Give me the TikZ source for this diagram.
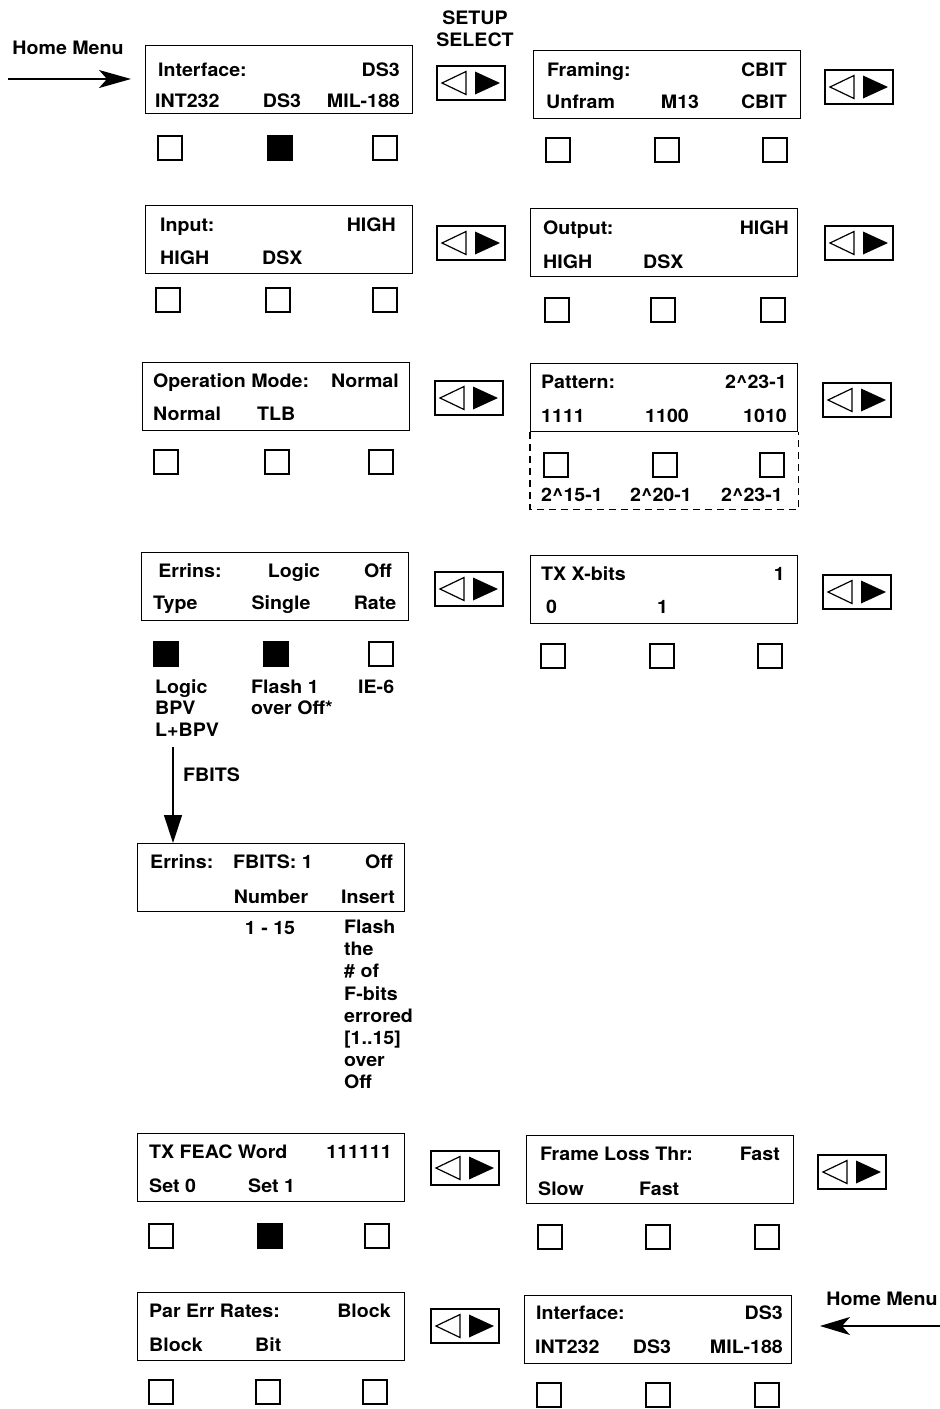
\documentclass[tikz,border=0pt]{standalone}
\usepackage{fontspec}
\setmainfont{TeX Gyre Heros}[FakeStretch=1.06]
\usetikzlibrary{arrows.meta}

\tikzset{
  lcd/.style={draw, line width=1.3pt, minimum width=267pt, minimum height=68pt, inner sep=0pt},
  key/.style={draw, line width=1.2pt, minimum size=24pt, inner sep=0pt},
  keyon/.style={key, fill=black},
  selbtn/.style={draw, line width=1.3pt, minimum width=68pt, minimum height=34pt, inner sep=0pt,
    path picture={
      \draw[line width=1.2pt, shift={(path picture bounding box.center)}] (-29,0) -- (-5,-11.5) -- (-5,11.5) -- cycle;
      \fill[shift={(path picture bounding box.center)}] (4,-11.5) -- (4,11.5) -- (29,0) -- cycle;
    }},
  lbl/.style={inner sep=0pt, font=\fontsize{18.5}{22}\selectfont\bfseries},
}

\begin{document}
\begin{tikzpicture}[x=1pt, y=-1pt]
    \useasboundingbox (0,0) rectangle (940,1409);

    % home menu in
    \node[lbl] (home1) at (68,48) {Home Menu};
    \coordinate (home1in) at (8,79);
    \coordinate (home1tip) at (131,79);
    \node[lbl] (setup) at (475,18) {SETUP};
    \node[lbl] (select) at (475,40) {SELECT};

    % displays
    \node[lcd, anchor=north west] (iface)  at (145,45)   {};
    \node[lcd, anchor=north west] (fram)   at (533,50)   {};
    \node[lcd, anchor=north west] (input)  at (145,205)  {};
    \node[lcd, anchor=north west] (output) at (530,208)  {};
    \node[lcd, anchor=north west] (opmode) at (142,362)  {};
    \node[lcd, anchor=north west] (patt)   at (530,363)  {};
    \node[lcd, anchor=north west] (errins) at (141,552)  {};
    \node[lcd, anchor=north west] (txx)    at (530,555)  {};
    \node[lcd, anchor=north west] (fbits)  at (137,843)  {};
    \node[lcd, anchor=north west] (feac)   at (137,1133) {};
    \node[lcd, anchor=north west] (floss)  at (526,1135) {};
    \node[lcd, anchor=north west] (parerr) at (137,1292) {};
    \node[lcd, anchor=north west] (iface2) at (524,1295) {};

    % display texts
    \node[lbl, anchor=base west] (iface-a) at (158,76)  {Interface:};
    \node[lbl, anchor=base east] (iface-b) at (400,76)  {DS3};
    \node[lbl, anchor=base west] (iface-c) at (155,107) {INT232};
    \node[lbl, anchor=base]      (iface-d) at (282,107) {DS3};
    \node[lbl, anchor=base east] (iface-e) at (400,107) {MIL-188};

    \node[lbl, anchor=base west] (fram-a) at (547,76)  {Framing:};
    \node[lbl, anchor=base east] (fram-b) at (787,76)  {CBIT};
    \node[lbl, anchor=base west] (fram-c) at (546,108) {Unfram};
    \node[lbl, anchor=base]      (fram-d) at (680,108) {M13};
    \node[lbl, anchor=base east] (fram-e) at (787,108) {CBIT};

    \node[lbl, anchor=base west] (input-a) at (160,231) {Input:};
    \node[lbl, anchor=base east] (input-b) at (396,231) {HIGH};
    \node[lbl, anchor=base west] (input-c) at (160,264) {HIGH};
    \node[lbl, anchor=base west] (input-d) at (262,264) {DSX};

    \node[lbl, anchor=base west] (output-a) at (543,234) {Output:};
    \node[lbl, anchor=base east] (output-b) at (789,234) {HIGH};
    \node[lbl, anchor=base west] (output-c) at (543,268) {HIGH};
    \node[lbl, anchor=base west] (output-d) at (643,268) {DSX};

    \node[lbl, anchor=base west] (opmode-a) at (153,387) {Operation Mode:};
    \node[lbl, anchor=base east] (opmode-b) at (399,387) {Normal};
    \node[lbl, anchor=base west] (opmode-c) at (153,420) {Normal};
    \node[lbl, anchor=base west] (opmode-d) at (257,420) {TLB};

    \node[lbl, anchor=base west] (patt-a) at (541,388) {Pattern:};
    \node[lbl, anchor=base east] (patt-b) at (787,388) {2\^{}23-1};
    \node[lbl, anchor=base west] (patt-c) at (541,422) {1111};
    \node[lbl, anchor=base]      (patt-d) at (667,422) {1100};
    \node[lbl, anchor=base east] (patt-e) at (787,422) {1010};

    \node[lbl, anchor=base] (errins-a) at (190,577) {Errins:};
    \node[lbl, anchor=base] (errins-b) at (294,577) {Logic};
    \node[lbl, anchor=base] (errins-c) at (378,577) {Off};
    \node[lbl, anchor=base west] (errins-d) at (153,609) {Type};
    \node[lbl, anchor=base] (errins-e) at (281,609) {Single};
    \node[lbl, anchor=base] (errins-f) at (375,609) {Rate};

    \node[lbl, anchor=base west] (txx-a) at (541,580) {TX X-bits};
    \node[lbl, anchor=base east] (txx-b) at (785,580) {1};
    \node[lbl, anchor=base west] (txx-c) at (546,613) {0};
    \node[lbl, anchor=base west] (txx-d) at (657,613) {1};

    \node[lbl, anchor=base west] (fbits-a) at (150,868) {Errins:};
    \node[lbl, anchor=base west] (fbits-b) at (233,868) {FBITS: 1};
    \node[lbl, anchor=base east] (fbits-c) at (393,868) {Off};
    \node[lbl, anchor=base]      (fbits-d) at (271,903) {Number};
    \node[lbl, anchor=base]      (fbits-e) at (368,903) {Insert};

    \node[lbl, anchor=base west] (feac-a) at (149,1158) {TX FEAC Word};
    \node[lbl, anchor=base east] (feac-b) at (392,1158) {111111};
    \node[lbl, anchor=base west] (feac-c) at (149,1192) {Set 0};
    \node[lbl, anchor=base west] (feac-d) at (248,1192) {Set 1};

    \node[lbl, anchor=base west] (floss-a) at (540,1160) {Frame Loss Thr:};
    \node[lbl, anchor=base east] (floss-b) at (780,1160) {Fast};
    \node[lbl, anchor=base west] (floss-c) at (538,1195) {Slow};
    \node[lbl, anchor=base west] (floss-d) at (639,1195) {Fast};

    \node[lbl, anchor=base west] (parerr-a) at (149,1317) {Par Err Rates:};
    \node[lbl, anchor=base east] (parerr-b) at (391,1317) {Block};
    \node[lbl, anchor=base west] (parerr-c) at (149,1351) {Block};
    \node[lbl, anchor=base west] (parerr-d) at (255,1351) {Bit};

    \node[lbl, anchor=base west] (iface2-a) at (536,1319) {Interface:};
    \node[lbl, anchor=base east] (iface2-b) at (783,1319) {DS3};
    \node[lbl, anchor=base west] (iface2-c) at (535,1353) {INT232};
    \node[lbl, anchor=base]      (iface2-d) at (652,1353) {DS3};
    \node[lbl, anchor=base east] (iface2-e) at (783,1353) {MIL-188};

    % keys under the displays
    \node[key]   (iface-k1) at (170,148) {};
    \node[keyon] (iface-k2) at (280,148) {};
    \node[key]   (iface-k3) at (385,148) {};
    \node[key]   (fram-k1) at (558,150) {};
    \node[key]   (fram-k2) at (667,150) {};
    \node[key]   (fram-k3) at (775,150) {};
    \node[key]   (input-k1) at (168,300) {};
    \node[key]   (input-k2) at (278,300) {};
    \node[key]   (input-k3) at (385,300) {};
    \node[key]   (output-k1) at (557,310) {};
    \node[key]   (output-k2) at (663,310) {};
    \node[key]   (output-k3) at (773,310) {};
    \node[key]   (opmode-k1) at (166,462) {};
    \node[key]   (opmode-k2) at (277,462) {};
    \node[key]   (opmode-k3) at (381,462) {};
    \node[key]   (patt-k1) at (556,465) {};
    \node[key]   (patt-k2) at (665,465) {};
    \node[key]   (patt-k3) at (772,465) {};
    \node[keyon] (errins-k1) at (166,654) {};
    \node[keyon] (errins-k2) at (276,654) {};
    \node[key]   (errins-k3) at (381,654) {};
    \node[key]   (txx-k1) at (553,656) {};
    \node[key]   (txx-k2) at (662,656) {};
    \node[key]   (txx-k3) at (770,656) {};
    \node[key]   (feac-k1) at (161,1236) {};
    \node[keyon] (feac-k2) at (270,1236) {};
    \node[key]   (feac-k3) at (377,1236) {};
    \node[key]   (floss-k1) at (550,1237) {};
    \node[key]   (floss-k2) at (658,1237) {};
    \node[key]   (floss-k3) at (767,1237) {};
    \node[key]   (parerr-k1) at (161,1392) {};
    \node[key]   (parerr-k2) at (268,1392) {};
    \node[key]   (parerr-k3) at (375,1392) {};
    \node[key]   (iface2-k1) at (549,1395) {};
    \node[key]   (iface2-k2) at (658,1395) {};
    \node[key]   (iface2-k3) at (767,1395) {};

    % pattern choices
    \draw[dash pattern=on 7pt off 5pt, line width=1.2pt] (patt.south west) -- ++(0,77) -| (patt.south east);
    \node[lbl, anchor=base] (patt-l1) at (572,501) {2\^{}15-1};
    \node[lbl, anchor=base] (patt-l2) at (661,501) {2\^{}20-1};
    \node[lbl, anchor=base] (patt-l3) at (752,501) {2\^{}23-1};

    % errins choices
    \node[lbl, anchor=base west] (errins-l1) at (155,693) {Logic};
    \node[lbl, anchor=base west] (errins-l2) at (155,714) {BPV};
    \node[lbl, anchor=base west] (errins-l3) at (155,736) {L+BPV};
    \node[lbl, anchor=base west] (errins-l4) at (251,693) {Flash 1};
    \node[lbl, anchor=base west] (errins-l5) at (251,714) {over Off*};
    \node[lbl, anchor=base west] (errins-l6) at (358,693) {IE-6};
    \coordinate (fbitsout) at (173,747);
    \node[lbl, anchor=base west] (fbitslbl) at (183,781) {FBITS};

    % fbits choices
    \node[lbl, anchor=base] (fbits-l1) at (270,934) {1 - 15};
    \node[lbl, anchor=north west, align=left, font=\fontsize{18.5}{22.1}\selectfont\bfseries] (fbits-l2) at (344,920)
        {Flash\\the\\\# of\\F-bits\\errored\\{[}1..15{]}\\over\\Off};

    % setup select buttons
    \node[selbtn] (iface-s)  at (471,83)   {};
    \node[selbtn] (fram-s)   at (859,87)   {};
    \node[selbtn] (input-s)  at (471,243)  {};
    \node[selbtn] (output-s) at (859,243)  {};
    \node[selbtn] (opmode-s) at (469,398)  {};
    \node[selbtn] (patt-s)   at (857,400)  {};
    \node[selbtn] (errins-s) at (469,589)  {};
    \node[selbtn] (txx-s)    at (857,592)  {};
    \node[selbtn] (feac-s)   at (465,1168) {};
    \node[selbtn] (floss-s)  at (852,1172) {};
    \node[selbtn] (parerr-s) at (465,1326) {};

    % home menu back
    \node[lbl] (home2) at (882,1299) {Home Menu};
    \coordinate (home2in) at (940,1326);
    \coordinate (home2tip) at (820,1326);

    \draw[line width=1.3pt, -{Stealth[length=32pt, width=18pt, inset=8pt]}] (home1in) -- (home1tip);
    \draw[line width=1.3pt, -{Stealth[length=30pt, width=18pt, inset=8pt]}] (home2in) -- (home2tip);
    \draw[line width=1.3pt, -{Triangle[length=28pt, width=18pt]}] (fbitsout) -- (fbitsout |- fbits.north);
\end{tikzpicture}
\end{document}
